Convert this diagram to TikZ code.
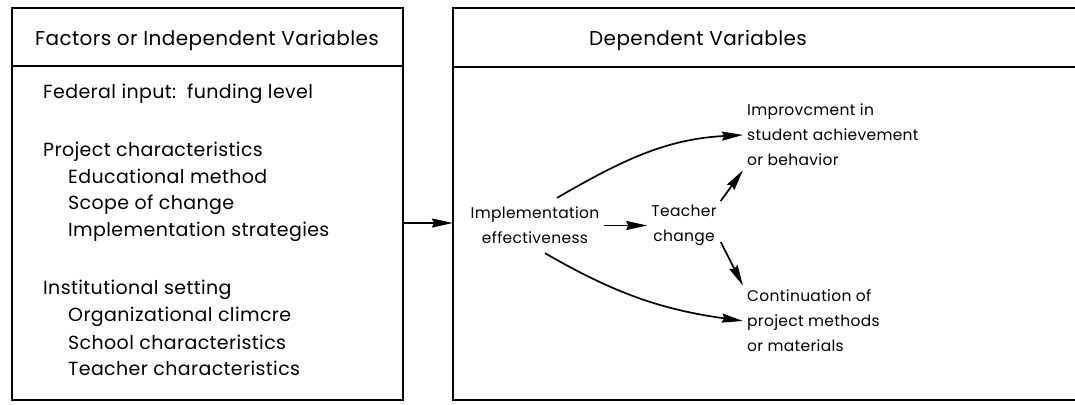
\documentclass[tikz,border=0pt]{standalone}
\usepackage{fontspec}
\setmainfont[LetterSpace=2]{Poppins}
\usetikzlibrary{positioning}
\usetikzlibrary{arrows.meta}

\begin{document}
\begin{tikzpicture}[x=1pt, y=1pt,
  head/.style={font=\fontsize{20}{25}\selectfont, inner sep=4pt},
  txt/.style={font=\fontsize{15.5}{25}\selectfont, inner sep=4pt},
  item/.style={font=\fontsize{19}{25}\selectfont, inner sep=0pt, anchor=base west},
  arr/.style={line width=1.7pt, -{Stealth[length=21pt, width=9pt, inset=2pt]}},
  boxline/.style={line width=2pt}]
\useasboundingbox (0,0) rectangle (1075,404);
% left box
\draw[boxline] (12,4) rectangle (403,396);
\draw[boxline] (12,338) -- (403,338);
\node[head] (indep) at (207,364) {Factors or Independent Variables};
\node[item] (fed) at (43,305) {Federal input:\ \ funding level};
\node[item] (proj) at (43,247) {Project characteristics};
\node[item] (edu) at (68,220) {Educational method};
\node[item] (scope) at (68,194) {Scope of change};
\node[item] (strat) at (68,167) {Implementation strategies};
\node[item] (inst) at (43,109) {Institutional setting};
\node[item] (clim) at (68,82) {Organizational climcre};
\node[item] (school) at (68,55) {School characteristics};
\node[item] (teach) at (68,29) {Teacher characteristics};
% right box, open to the right
\draw[boxline] (1075,396) -- (453,396) -- (453,4) -- (1075,4);
\draw[boxline] (453,337) -- (1075,337);
\node[head] (dep) at (698,364) {Dependent Variables};
\node[txt, align=center] (impl) at (535,178.5) {Implementation\\effectiveness};
\node[txt, align=center] (tchg) at (684,178.5) {Teacher\\change};
\node[txt, align=left, anchor=west] (improv) at (743,269) {Improvcment in\\student achievement\\or behavior};
\node[txt, align=left, anchor=west] (contin) at (743,83) {Continuation of\\project methods\\or materials};
% arrows
\draw[arr] (403,181) -- (453,181);
\draw[arr] (impl.east) -- (tchg.west);
\draw[arr] (tchg.north east) -- (improv.south west);
\draw[arr] ([yshift=8pt]tchg.south east) -- (contin.north west);
\draw[arr] ([xshift=22pt,yshift=5pt]impl.north) to[out=30, in=183] (improv.west);
\draw[arr] ([xshift=10pt,yshift=-5pt]impl.south) to[out=-30, in=172] (contin.west);
\end{tikzpicture}
\end{document}
